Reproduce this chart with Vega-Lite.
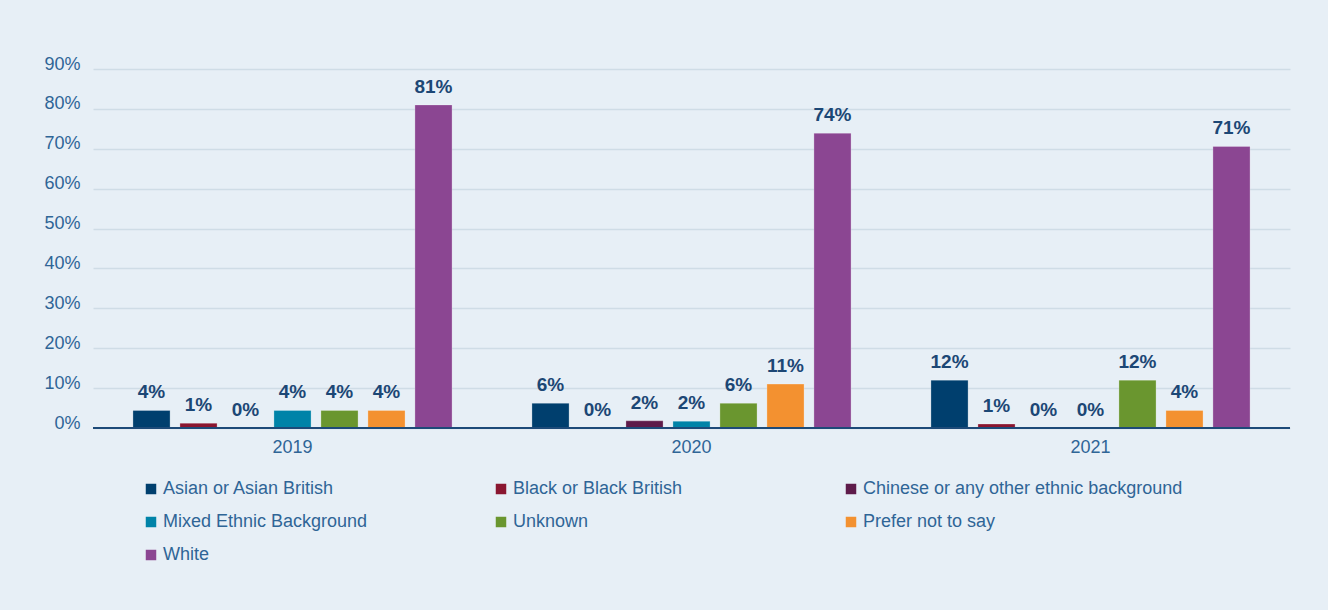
{
  "$schema": "https://vega.github.io/schema/vega-lite/v6.json",
  "width": 1197,
  "height": 359,
  "autosize": {"type": "none"},
  "padding": {"left": 93, "top": 69, "right": 39, "bottom": 182},
  "background": "#e7eff6",
  "config": {"view": {"stroke": null}},
  "data": {
    "values": [
      {"year": "2019", "group": "Asian or Asian British", "value": 0.044},
      {"year": "2019", "group": "Black or Black British", "value": 0.012},
      {"year": "2019", "group": "Chinese or any other ethnic background", "value": 0.0},
      {"year": "2019", "group": "Mixed Ethnic Background", "value": 0.044},
      {"year": "2019", "group": "Unknown", "value": 0.044},
      {"year": "2019", "group": "Prefer not to say", "value": 0.044},
      {"year": "2019", "group": "White", "value": 0.81},
      {"year": "2020", "group": "Asian or Asian British", "value": 0.062},
      {"year": "2020", "group": "Black or Black British", "value": 0.0},
      {"year": "2020", "group": "Chinese or any other ethnic background", "value": 0.018},
      {"year": "2020", "group": "Mixed Ethnic Background", "value": 0.017},
      {"year": "2020", "group": "Unknown", "value": 0.062},
      {"year": "2020", "group": "Prefer not to say", "value": 0.11},
      {"year": "2020", "group": "White", "value": 0.739},
      {"year": "2021", "group": "Asian or Asian British", "value": 0.12},
      {"year": "2021", "group": "Black or Black British", "value": 0.01},
      {"year": "2021", "group": "Chinese or any other ethnic background", "value": 0.0},
      {"year": "2021", "group": "Mixed Ethnic Background", "value": 0.0},
      {"year": "2021", "group": "Unknown", "value": 0.12},
      {"year": "2021", "group": "Prefer not to say", "value": 0.044},
      {"year": "2021", "group": "White", "value": 0.706}
    ]
  },
  "encoding": {
    "x": {
      "field": "year", "type": "nominal", "title": null,
      "scale": {"paddingInner": 0, "paddingOuter": 0},
      "axis": {
        "labelAngle": 0, "ticks": false, "domain": false,
        "labelFont": "Liberation Sans", "labelFontSize": 18, "labelColor": "#2f6596",
        "labelPadding": 10
      }
    },
    "xOffset": {
      "field": "group", "type": "nominal",
      "sort": ["Asian or Asian British", "Black or Black British", "Chinese or any other ethnic background", "Mixed Ethnic Background", "Unknown", "Prefer not to say", "White"],
      "scale": {"paddingInner": 0.21, "paddingOuter": 0.85}
    },
    "y": {
      "field": "value", "type": "quantitative", "title": null,
      "scale": {"domain": [0, 0.9], "nice": false},
      "axis": {
        "format": ".0%", "values": [0, 0.1, 0.2, 0.3, 0.4, 0.5, 0.6, 0.7, 0.8, 0.9],
        "ticks": false, "domain": false,
        "grid": true, "gridColor": "#cfdce6", "gridWidth": 1.5,
        "labelFont": "Liberation Sans", "labelFontSize": 18, "labelColor": "#2f6596",
        "labelPadding": 13, "labelBaseline": "alphabetic"
      }
    }
  },
  "layer": [
    {
      "mark": {"type": "bar", "stroke": "#ffffff", "strokeOpacity": 0.25, "strokeWidth": 1},
      "encoding": {
        "color": {
          "field": "group", "type": "nominal",
          "sort": ["Asian or Asian British", "Black or Black British", "Chinese or any other ethnic background", "Mixed Ethnic Background", "Unknown", "Prefer not to say", "White"],
          "scale": {
            "domain": ["Asian or Asian British", "Black or Black British", "Chinese or any other ethnic background", "Mixed Ethnic Background", "Unknown", "Prefer not to say", "White"],
            "range": ["#003f6e", "#8a1630", "#5e1b4a", "#0083a8", "#6a962f", "#f39130", "#8b4692"]
          },
          "legend": {
            "title": null, "orient": "none", "legendX": 49, "legendY": 411,
            "direction": "horizontal", "columns": 3, "gridAlign": "all",
            "columnPadding": 9, "rowPadding": 15,
            "symbolType": "square", "symbolSize": 110, "symbolStrokeWidth": 0,
            "labelFont": "Liberation Sans", "labelFontSize": 18, "labelColor": "#2f6596",
            "labelOffset": 3, "labelLimit": 500
          }
        }
      }
    },
    {
      "mark": {"type": "rule", "color": "#1d4a78", "strokeWidth": 2},
      "encoding": {
        "x": {"value": 0},
        "x2": {"value": 1197},
        "y": {"datum": 0},
        "xOffset": null
      }
    },
    {
      "mark": {"type": "text", "baseline": "alphabetic", "dy": -12, "font": "Liberation Sans", "fontWeight": "bold", "fontSize": 19, "color": "#1c4775"},
      "encoding": {
        "text": {"field": "value", "type": "quantitative", "format": ".0%"}
      }
    }
  ]
}
